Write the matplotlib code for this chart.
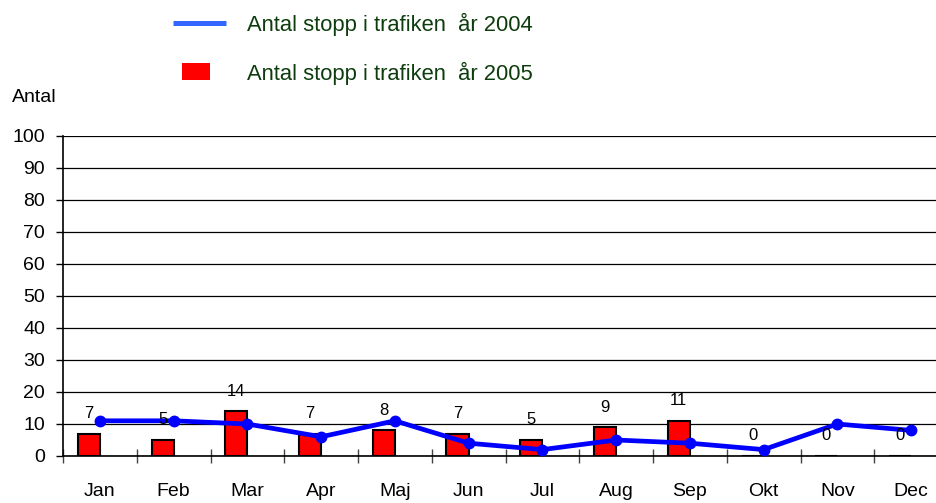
import numpy as np
from matplotlib import pyplot as plt
from matplotlib.lines import Line2D
from matplotlib.patches import Rectangle

MONTHS = ['Jan', 'Feb', 'Mar', 'Apr', 'Maj', 'Jun', 'Jul', 'Aug', 'Sep', 'Okt', 'Nov', 'Dec']
STOPS_2004 = [11, 11, 10, 6, 11, 4, 2, 5, 4, 2, 10, 8]
STOPS_2005 = [7, 5, 14, 7, 8, 7, 5, 9, 11, 0, 0, 0]
LABEL_2004 = 'Antal stopp i trafiken  år 2004'
LABEL_2005 = 'Antal stopp i trafiken  år 2005'

W, H = 936, 503
plt.rcParams['font.family'] = ['Liberation Sans', 'DejaVu Sans']


def fx(px):
    return px / W


def fy(py):
    return 1 - py / H


def main():
    fig = plt.figure(figsize=(W / 100, H / 100), dpi=100)
    ax = fig.add_axes([63 / W, 47 / H, 885 / W, 320 / H])

    x = np.arange(len(MONTHS))
    bar_w = 0.3
    bars = ax.bar(x - bar_w / 2, STOPS_2005, width=bar_w, color='#ff0000',
                  edgecolor='black', linewidth=1.5, zorder=3)
    for rect, v in zip(bars, STOPS_2005):
        ax.annotate(str(v), (rect.get_x() + rect.get_width() / 2, v),
                    xytext=(0, 14.5), textcoords='offset points',
                    ha='center', va='center', fontsize=12, zorder=5)
    ax.plot(x, STOPS_2004, color='#0000ff', linewidth=3.4, marker='o',
            markersize=7.5, zorder=4)

    ax.set_xlim(-0.5, len(MONTHS) - 0.5)
    ax.set_ylim(0, 100)
    ax.set_yticks(np.arange(0, 101, 10))
    ax.yaxis.grid(True, color='black', linewidth=0.9)
    ax.set_axisbelow(True)
    ax.tick_params(axis='y', direction='out', length=5, width=1, pad=8, labelsize=14)

    ax.set_xticks(np.arange(-0.5, len(MONTHS), 1))
    ax.set_xticklabels([])
    ax.set_xticks(x, minor=True)
    ax.set_xticklabels(MONTHS, minor=True)
    ax.tick_params(axis='x', which='major', direction='inout', length=10, width=1, color='#444444')
    ax.tick_params(axis='x', which='minor', length=0, pad=19.5, labelsize=14)

    for side in ['top', 'right']:
        ax.spines[side].set_visible(False)
    ax.spines['left'].set_linewidth(1.2)
    ax.spines['bottom'].set_linewidth(1.2)

    fig.text(fx(12), fy(97), 'Antal', fontsize=14, ha='left', va='center')

    # legend drawn by hand: line and box have different sizes
    fig.add_artist(Line2D([fx(173), fx(226)], [fy(22.5), fy(22.5)],
                          color='#3366ff', linewidth=3.6, solid_capstyle='butt',
                          transform=fig.transFigure))
    fig.add_artist(Rectangle((fx(182), fy(80)), fx(210) - fx(182), fy(63) - fy(80),
                             facecolor='#ff0000', edgecolor='none',
                             transform=fig.transFigure))
    fig.text(fx(247), fy(31.5), LABEL_2004, fontsize=15.8, color='#0d3d0d',
             ha='left', va='baseline')
    fig.text(fx(247), fy(80), LABEL_2005, fontsize=15.8, color='#0d3d0d',
             ha='left', va='baseline')

    fig.savefig('out.png', dpi=100)


if __name__ == '__main__':
    main()
